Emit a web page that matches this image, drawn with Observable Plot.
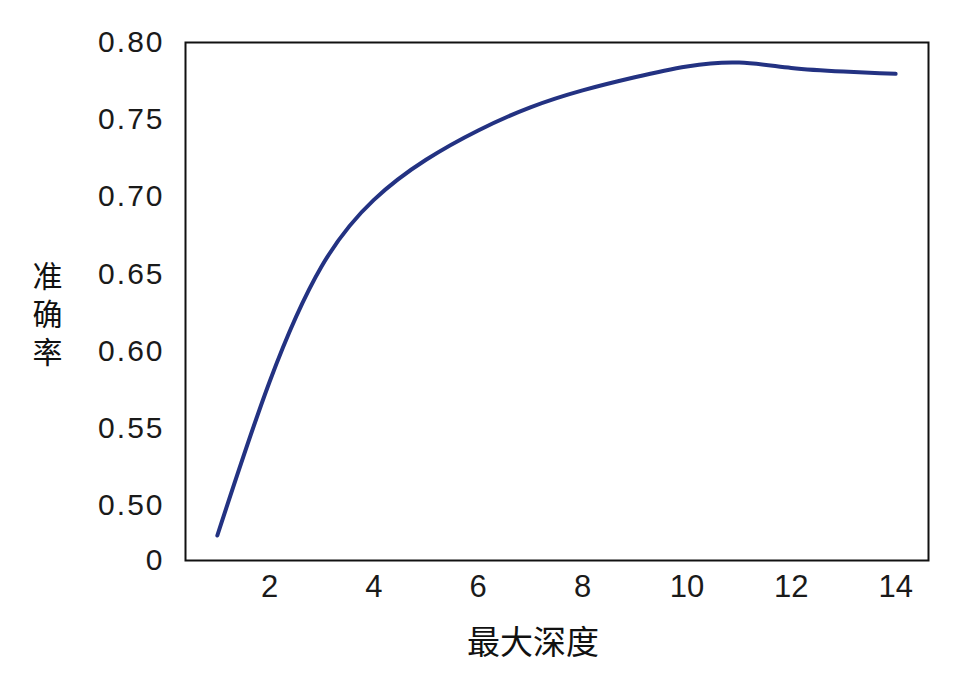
<!DOCTYPE html>
<html>
<head>
<meta charset="utf-8">
<script src="https://cdn.jsdelivr.net/npm/d3@7"></script>
<script src="https://cdn.jsdelivr.net/npm/@observablehq/plot@0.6"></script>
<style>
  html, body { margin: 0; padding: 0; background: #fff; }
  #chart svg { display: block; }
  .yt text { letter-spacing: 2px; }
  .ytitle text { writing-mode: vertical-rl; letter-spacing: 8px; }
</style>
</head>
<body>
<div id="chart"></div>
<script>
// ---- data ----
const depths = [1, 2, 3, 4, 5, 6, 7, 8, 9, 10, 11, 12, 13, 14];
const accuracy = [0.4805, 0.580, 0.655, 0.698, 0.724, 0.743, 0.758, 0.769, 0.7775, 0.7845, 0.787, 0.7835, 0.7812, 0.7797];
const xTicks = [2, 4, 6, 8, 10, 12, 14];
const yAxisFloor = 0.4643;          // broken axis: bottom labelled "0"
const yTickValues = [yAxisFloor, 0.50, 0.55, 0.60, 0.65, 0.70, 0.75, 0.80];
const yTickLabels = ["0", "0.50", "0.55", "0.60", "0.65", "0.70", "0.75", "0.80"];
const xTitle = "最大深度";
const yTitle = "准确率";

const data = depths.map((d, i) => ({depth: d, acc: accuracy[i]}));
const yLabelOf = new Map(yTickValues.map((v, i) => [v, yTickLabels[i]]));

const chart = Plot.plot({
  width: 956,
  height: 688,
  marginLeft: 185,
  marginRight: 28,
  marginTop: 42,
  marginBottom: 128,
  style: {background: "#fff", color: "#111"},
  x: {domain: [0.39, 14.63]},
  y: {domain: [yAxisFloor, 0.80]},
  marks: [
    Plot.frame({stroke: "#111", strokeWidth: 2}),
    Plot.line(data, {x: "depth", y: "acc", stroke: "#233282", strokeWidth: 4, curve: "natural"}),
    Plot.axisX({ticks: xTicks, tickSize: 0, tickPadding: 14, label: null,
      fontSize: 31, fontFamily: "'Liberation Sans', Arial, sans-serif", fill: "#1a1a1a"}),
    Plot.axisY({ticks: yTickValues, tickFormat: v => yLabelOf.get(v), tickSize: 0, tickPadding: 21, label: null,
      fontSize: 30, fontFamily: "'Liberation Sans', Arial, sans-serif", fill: "#1a1a1a", className: "yt"}),
    Plot.text([xTitle], {text: d => d, frameAnchor: "bottom", dy: 93, dx: -24,
      fontSize: 33, fontFamily: "'Noto Sans CJK SC', sans-serif", fill: "#111"}),
    Plot.text([yTitle], {text: d => d, frameAnchor: "left", dx: -138, dy: 6,
      textAnchor: "middle", className: "ytitle",
      fontSize: 30, fontFamily: "'Noto Sans CJK SC', sans-serif", fill: "#111"})
  ]
});
document.getElementById("chart").appendChild(chart);
</script>
</body>
</html>
